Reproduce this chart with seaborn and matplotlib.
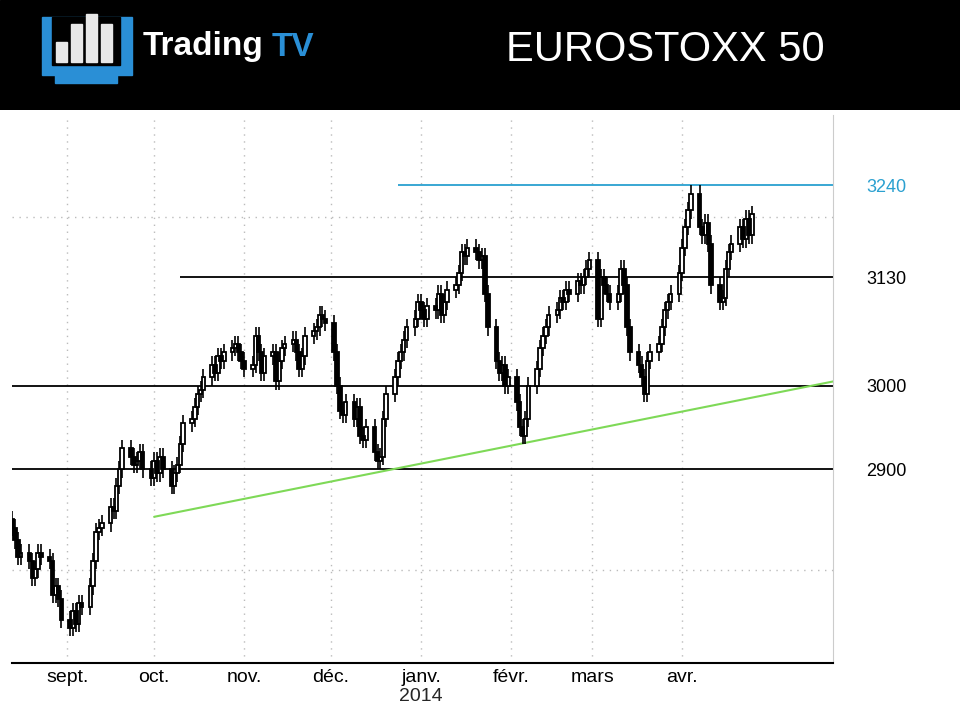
import matplotlib
matplotlib.use("Agg")
import matplotlib.pyplot as plt
import matplotlib.dates as mdates
import numpy as np
import pandas as pd
import seaborn as sns

# daily closes, from 13 Aug 2013 (business days)
closes = [2830, 2815, 2795, 2800,
          2790, 2770, 2780, 2800, 2795,
          2790, 2750, 2760, 2745, 2720,
          2710, 2730, 2715, 2740, 2735,
          2760, 2790, 2825, 2830, 2835,
          2855, 2850, 2880, 2900, 2925,
          2915, 2905, 2910, 2920, 2900,
          2890, 2910, 2895, 2915, 2900,
          2880, 2895, 2905, 2930, 2955,
          2960, 2975, 2990, 2995, 3010,
          3025, 3015, 3035, 3030, 3040,
          3045, 3050, 3040, 3030, 3020,
          3025, 3060, 3040, 3015, 3035,
          3040, 3005, 3030, 3045, 3050,
          3055, 3040, 3020, 3035, 3060,
          3065, 3070, 3085, 3080, 3075,
          3040, 3000, 2970, 2965, 2980,
          2960, 2975, 2940, 2935, 2950,
          2920, 2910, 2915, 2960, 2990,
          3010, 3030, 3040, 3055, 3070,
          3080, 3100, 3090, 3080, 3095,
          3090, 3110, 3085, 3100, 3115,
          3120, 3135, 3160, 3155, 3165,
          3160, 3150, 3155, 3110, 3070,
          3030, 3015, 3025, 3000, 3010,
          2980, 2950, 2940, 2960, 3000,
          3020, 3045, 3060, 3070, 3085,
          3090, 3105, 3100, 3115, 3110,
          3125, 3120, 3130, 3140, 3150,
          3080, 3130, 3120, 3110, 3100,
          3110, 3140, 3120, 3070, 3040,
          3025, 3010, 2990, 3030, 3040,
          3050, 3070, 3090, 3100, 3110,
          3135, 3165, 3190, 3210, 3230,
          3190, 3180, 3195, 3170, 3120,
          3100, 3105, 3140, 3160, 3170,
          3190, 3175, 3200, 3180, 3205]
wick = 10
level_blue = 3240
right_labels = [3240, 3130, 3000, 2900]
trend_dates = ["2013-10-01", "2014-05-23"]
trend_vals = [2843, 3005]
months = ["sept.", "oct.", "nov.", "déc.", "janv.", "févr.", "mars", "avr."]
month_dates = ["2013-09-01", "2013-10-01", "2013-11-01", "2013-12-01",
               "2014-01-01", "2014-02-01", "2014-03-01", "2014-04-01"]

dates = pd.bdate_range("2013-08-13", periods=len(closes))
c = np.array(closes, float)
o = np.r_[c[0] + 10, c[:-1]]
hi = np.maximum(o, c) + wick
lo = np.minimum(o, c) - wick
x = mdates.date2num(dates)

sns.set_style("white")
plt.rcParams["font.family"] = ["Liberation Sans", "DejaVu Sans"]
fig = plt.figure(figsize=(9.6, 7.2), dpi=100)
fig.patch.set_facecolor("white")

# header
hdr = fig.add_axes([0, 1 - 110 / 720, 1, 110 / 720])
hdr.set_xlim(0, 960); hdr.set_ylim(110, 0); hdr.axis("off")
hdr.add_patch(plt.Rectangle((0, 0), 960, 110, color="black"))
hdr.add_patch(plt.Rectangle((42, 17), 90, 58, color="#2a8fd6"))
hdr.add_patch(plt.Rectangle((52, 17), 68, 48, color="black"))
for bx, bh in [(56, 20), (71, 38), (86, 48), (101, 38)]:
    hdr.add_patch(plt.Rectangle((bx, 62 - bh), 11, bh, color="#e8e8e8"))
hdr.add_patch(plt.Rectangle((55, 75), 62, 8, color="#2a8fd6"))
hdr.text(143, 47, "Trading", color="white", fontsize=24, fontweight="bold", va="center")
hdr.text(272, 47, "TV", color="#2a8fd6", fontsize=24, fontweight="bold", va="center")
hdr.text(665, 50, "EUROSTOXX 50", color="white", fontsize=30, va="center", ha="center")

ax = fig.add_axes([12 / 960, 1 - 663 / 720, (833 - 12) / 960, (663 - 115) / 720])
ax.set_xlim(mdates.date2num(pd.Timestamp("2013-08-13")), mdates.date2num(pd.Timestamp("2014-05-23")))
ax.set_ylim(2668, 3324)

for d in month_dates:
    ax.axvline(mdates.date2num(pd.Timestamp(d)), color="#bbbbbb", ls=(0, (1, 4)), lw=1, zorder=0)
for v in [3202, 2779]:
    ax.axhline(v, color="#bbbbbb", ls=(0, (1, 4)), lw=1, zorder=0)

ax.axhline(3000, color="black", lw=1.3, zorder=1)
ax.axhline(2900, color="black", lw=1.3, zorder=1)
ax.hlines(3130, mdates.date2num(pd.Timestamp("2013-10-10")), ax.get_xlim()[1], color="black", lw=1.3, zorder=1)
ax.hlines(level_blue, mdates.date2num(pd.Timestamp("2013-12-24")), ax.get_xlim()[1], color="#2aa0d0", lw=1.3, zorder=1)
tdf = pd.DataFrame({"x": mdates.date2num(pd.to_datetime(trend_dates)), "y": trend_vals})
sns.lineplot(data=tdf, x="x", y="y", color="#7ed957", lw=1.5, ax=ax, zorder=1)

ax.vlines(x, lo, hi, color="black", lw=1.2, zorder=2)
up = c >= o
ax.bar(x[up], (c - o)[up], bottom=o[up], width=1.2, color="white", edgecolor="black", lw=1.3, zorder=3)
ax.bar(x[~up], (o - c)[~up], bottom=c[~up], width=1.2, color="black", edgecolor="black", lw=1.3, zorder=3)

for s in ["top", "left"]:
    ax.spines[s].set_visible(False)
ax.spines["bottom"].set_color("black")
ax.spines["bottom"].set_linewidth(1.5)
ax.spines["right"].set_color("#cccccc")
ax.set_yticks(right_labels)
ax.yaxis.tick_right()
ax.set_yticklabels([str(v) for v in right_labels], fontsize=13)
for t, v in zip(ax.get_yticklabels(), right_labels):
    t.set_color("#2aa0d0" if v == level_blue else "black")
ax.tick_params(axis="y", length=0, pad=24)
ax.set_xticks(mdates.date2num(pd.to_datetime(month_dates)))
ax.set_xticklabels(months, fontsize=14, color="black")
ax.tick_params(axis="x", length=0, pad=4)
ax.text(mdates.date2num(pd.Timestamp("2014-01-01")), -0.045, "2014", transform=ax.get_xaxis_transform(),
        ha="center", va="top", fontsize=14)
ax.set_xlabel(""); ax.set_ylabel("")

fig.savefig("out.png", dpi=100)
